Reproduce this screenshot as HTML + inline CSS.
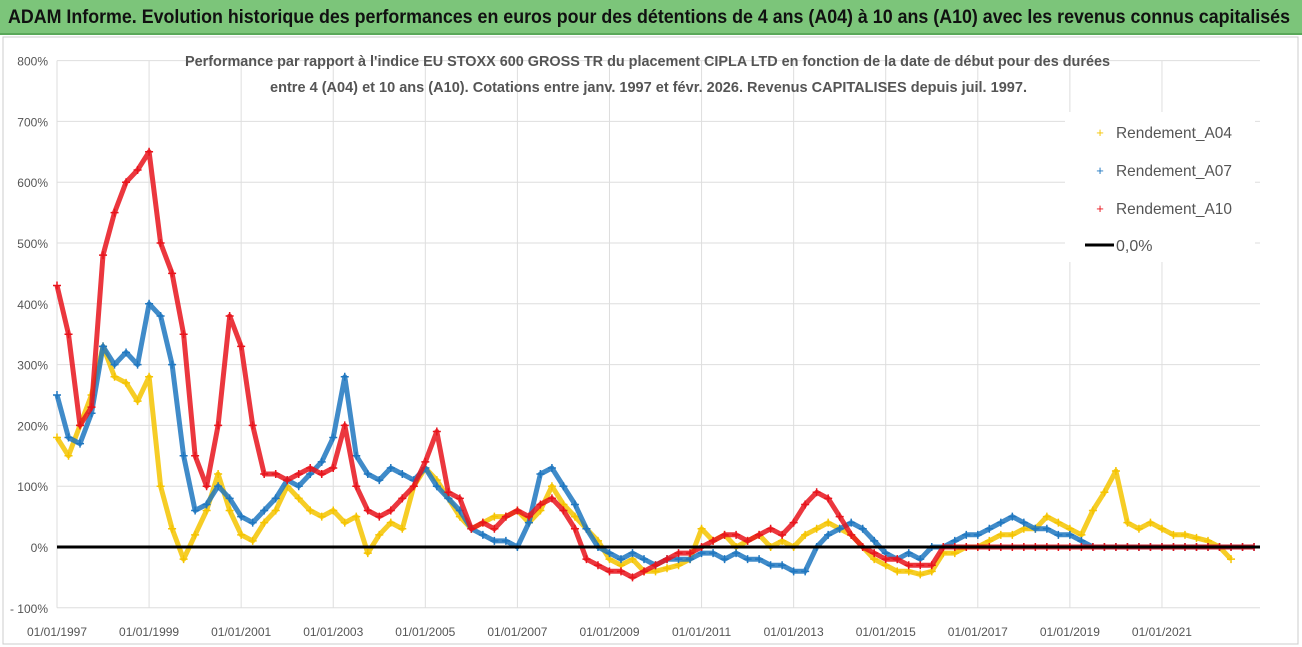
<!DOCTYPE html>
<html><head><meta charset="utf-8"><style>
body{margin:0;width:1302px;height:647px;background:#fff;font-family:"Liberation Sans",sans-serif;overflow:hidden}
#bar{position:absolute;left:0;top:0;width:1302px;height:33px;background:#7cc57a;border-bottom:2px solid #5aa85a}
svg{position:absolute;left:0;top:0}
</style></head><body>
<div id="bar"></div>
<svg id="chart" width="1302" height="647">
<text x="8" y="23" font-size="19" font-weight="bold" fill="#111" textLength="1282" lengthAdjust="spacingAndGlyphs">ADAM Informe. Evolution historique des performances en euros pour des détentions de 4 ans (A04) à 10 ans (A10) avec les revenus connus capitalisés</text>
</svg>
<script>
const startYear=1997, stepYear=0.25;
const yTicks=[800,700,600,500,400,300,200,100,0,-100];
const xLabelYears=[1997,1999,2001,2003,2005,2007,2009,2011,2013,2015,2017,2019,2021];
const a04=[180,150,200,250,330,280,270,240,280,100,30,-20,20,60,120,60,20,10,40,60,100,80,60,50,60,40,50,-10,20,40,30,100,130,110,80,50,30,40,50,50,60,40,60,100,70,50,30,10,-20,-30,-20,-40,-40,-35,-30,-20,30,10,20,0,10,20,0,10,0,20,30,40,30,20,0,-20,-30,-40,-40,-45,-40,-10,-10,0,0,10,20,20,30,30,50,40,30,20,60,90,125,40,30,40,30,20,20,15,10,0,-20];
const a07=[250,180,170,220,330,300,320,300,400,380,300,150,60,70,100,80,50,40,60,80,110,100,120,140,180,280,150,120,110,130,120,110,130,100,80,60,30,20,10,10,0,40,120,130,100,70,30,0,-10,-20,-10,-20,-30,-20,-20,-20,-10,-10,-20,-10,-20,-20,-30,-30,-40,-40,0,20,30,40,30,10,-10,-20,-10,-20,0,0,10,20,20,30,40,50,40,30,30,20,20,10,0,0,0,0,0,0,0,0,0,0,0,0,0,0,0];
const a10=[430,350,200,230,480,550,600,620,650,500,450,350,150,100,200,380,330,200,120,120,110,120,130,120,130,200,100,60,50,60,80,100,140,190,90,80,30,40,30,50,60,50,70,80,60,30,-20,-30,-40,-40,-50,-40,-30,-20,-10,-10,0,10,20,20,10,20,30,20,40,70,90,80,50,20,0,-10,-20,-20,-30,-30,-30,0,0,0,0,0,0,0,0,0,0,0,0,0,0,0,0,0,0,0,0,0,0,0,0,0,0,0,0];
const seriesNames=["Rendement_A04","Rendement_A07","Rendement_A10"];
const seriesColors=["#f5c400","#1f77c0","#e8141c"];
const svg=document.getElementById('chart');const NS="http://www.w3.org/2000/svg";
const X0=57,PX_YEAR=46.04,Y0=547,PX_PCT=0.608;
const xs=t=>X0+(t-1997)*PX_YEAR, ys=v=>Y0-v*PX_PCT;
function mk(tag,at,parent){const e=document.createElementNS(NS,tag);for(const k in at)e.setAttribute(k,at[k]);(parent||svg).appendChild(e);return e;}
let r=mk('rect',{x:3,y:37,width:1295,height:607,fill:'none',stroke:'#ccc'});


yTicks.forEach(v=>{
 let l=mk('line',{x1:X0,x2:1260,y1:ys(v),y2:ys(v),stroke:'#dedede'});
 
 
 let t=mk('text',{x:48,y:ys(v)+5,'text-anchor':'end','font-size':12,fill:'#555'});t.textContent=(v<0?'- ':'')+Math.abs(v)+'%';
 
 
});
xLabelYears.forEach(y=>{
 let l=mk('line',{x1:xs(y),x2:xs(y),y1:ys(800),y2:ys(-100),stroke:'#dedede'});
 
 
 let t=mk('text',{x:xs(y),y:636,'text-anchor':'middle','font-size':12,fill:'#555'});t.textContent='01/01/'+y;
 
 
});
[a04,a07,a10].forEach((arr,si)=>{
 const g=mk('g',{});
 
 
 const pts=arr.map((v,i)=>xs(startYear+i*stepYear).toFixed(1)+','+ys(v).toFixed(1)).join(' ');
 mk('polyline',{points:pts,fill:'none',stroke:seriesColors[si],'stroke-width':5,'stroke-opacity':0.85,'stroke-linejoin':'round'},g);
 arr.forEach((v,i)=>{const x=xs(startYear+i*stepYear),y=ys(v);
  const p=mk('path',{d:`M${x-4} ${y}h8M${x} ${y-4}v8`,stroke:seriesColors[si],'stroke-width':1.5},g);
  
  
 });
});
let z=mk('line',{x1:X0,x2:1260,y1:ys(0),y2:ys(0),stroke:'#000','stroke-width':3});


[["Performance par rapport à l'indice EU STOXX 600 GROSS TR  du placement CIPLA LTD en fonction de la date de début pour des durées",185,66,925],["entre 4 (A04) et 10 ans (A10). Cotations entre janv. 1997 et févr. 2026. Revenus CAPITALISES depuis juil. 1997.",270,92,757]].forEach(([s,x,y,w])=>{
 let t=mk('text',{x:x,y:y,'font-size':15,'font-weight':'bold',fill:'#555',textLength:w,lengthAdjust:'spacingAndGlyphs'});t.textContent=s;
 
 
});
let lb=mk('rect',{x:1065,y:112,width:190,height:150,fill:'#fff'});


seriesNames.forEach((n,i)=>{const y=132+i*38;
 let m=mk('text',{x:1100,y:y+5,'text-anchor':'middle','font-size':13,fill:seriesColors[i]});m.textContent='+';
 
 
 let t=mk('text',{x:1116,y:y+6,'font-size':16,fill:'#555',textLength:116,lengthAdjust:'spacingAndGlyphs'});t.textContent=n;
 
 
});
let ll=mk('line',{x1:1085,x2:1114,y1:245,y2:245,stroke:'#000','stroke-width':3});


let lt=mk('text',{x:1116,y:251,'font-size':16,fill:'#555'});lt.textContent='0,0%';


</script>
</body></html>
